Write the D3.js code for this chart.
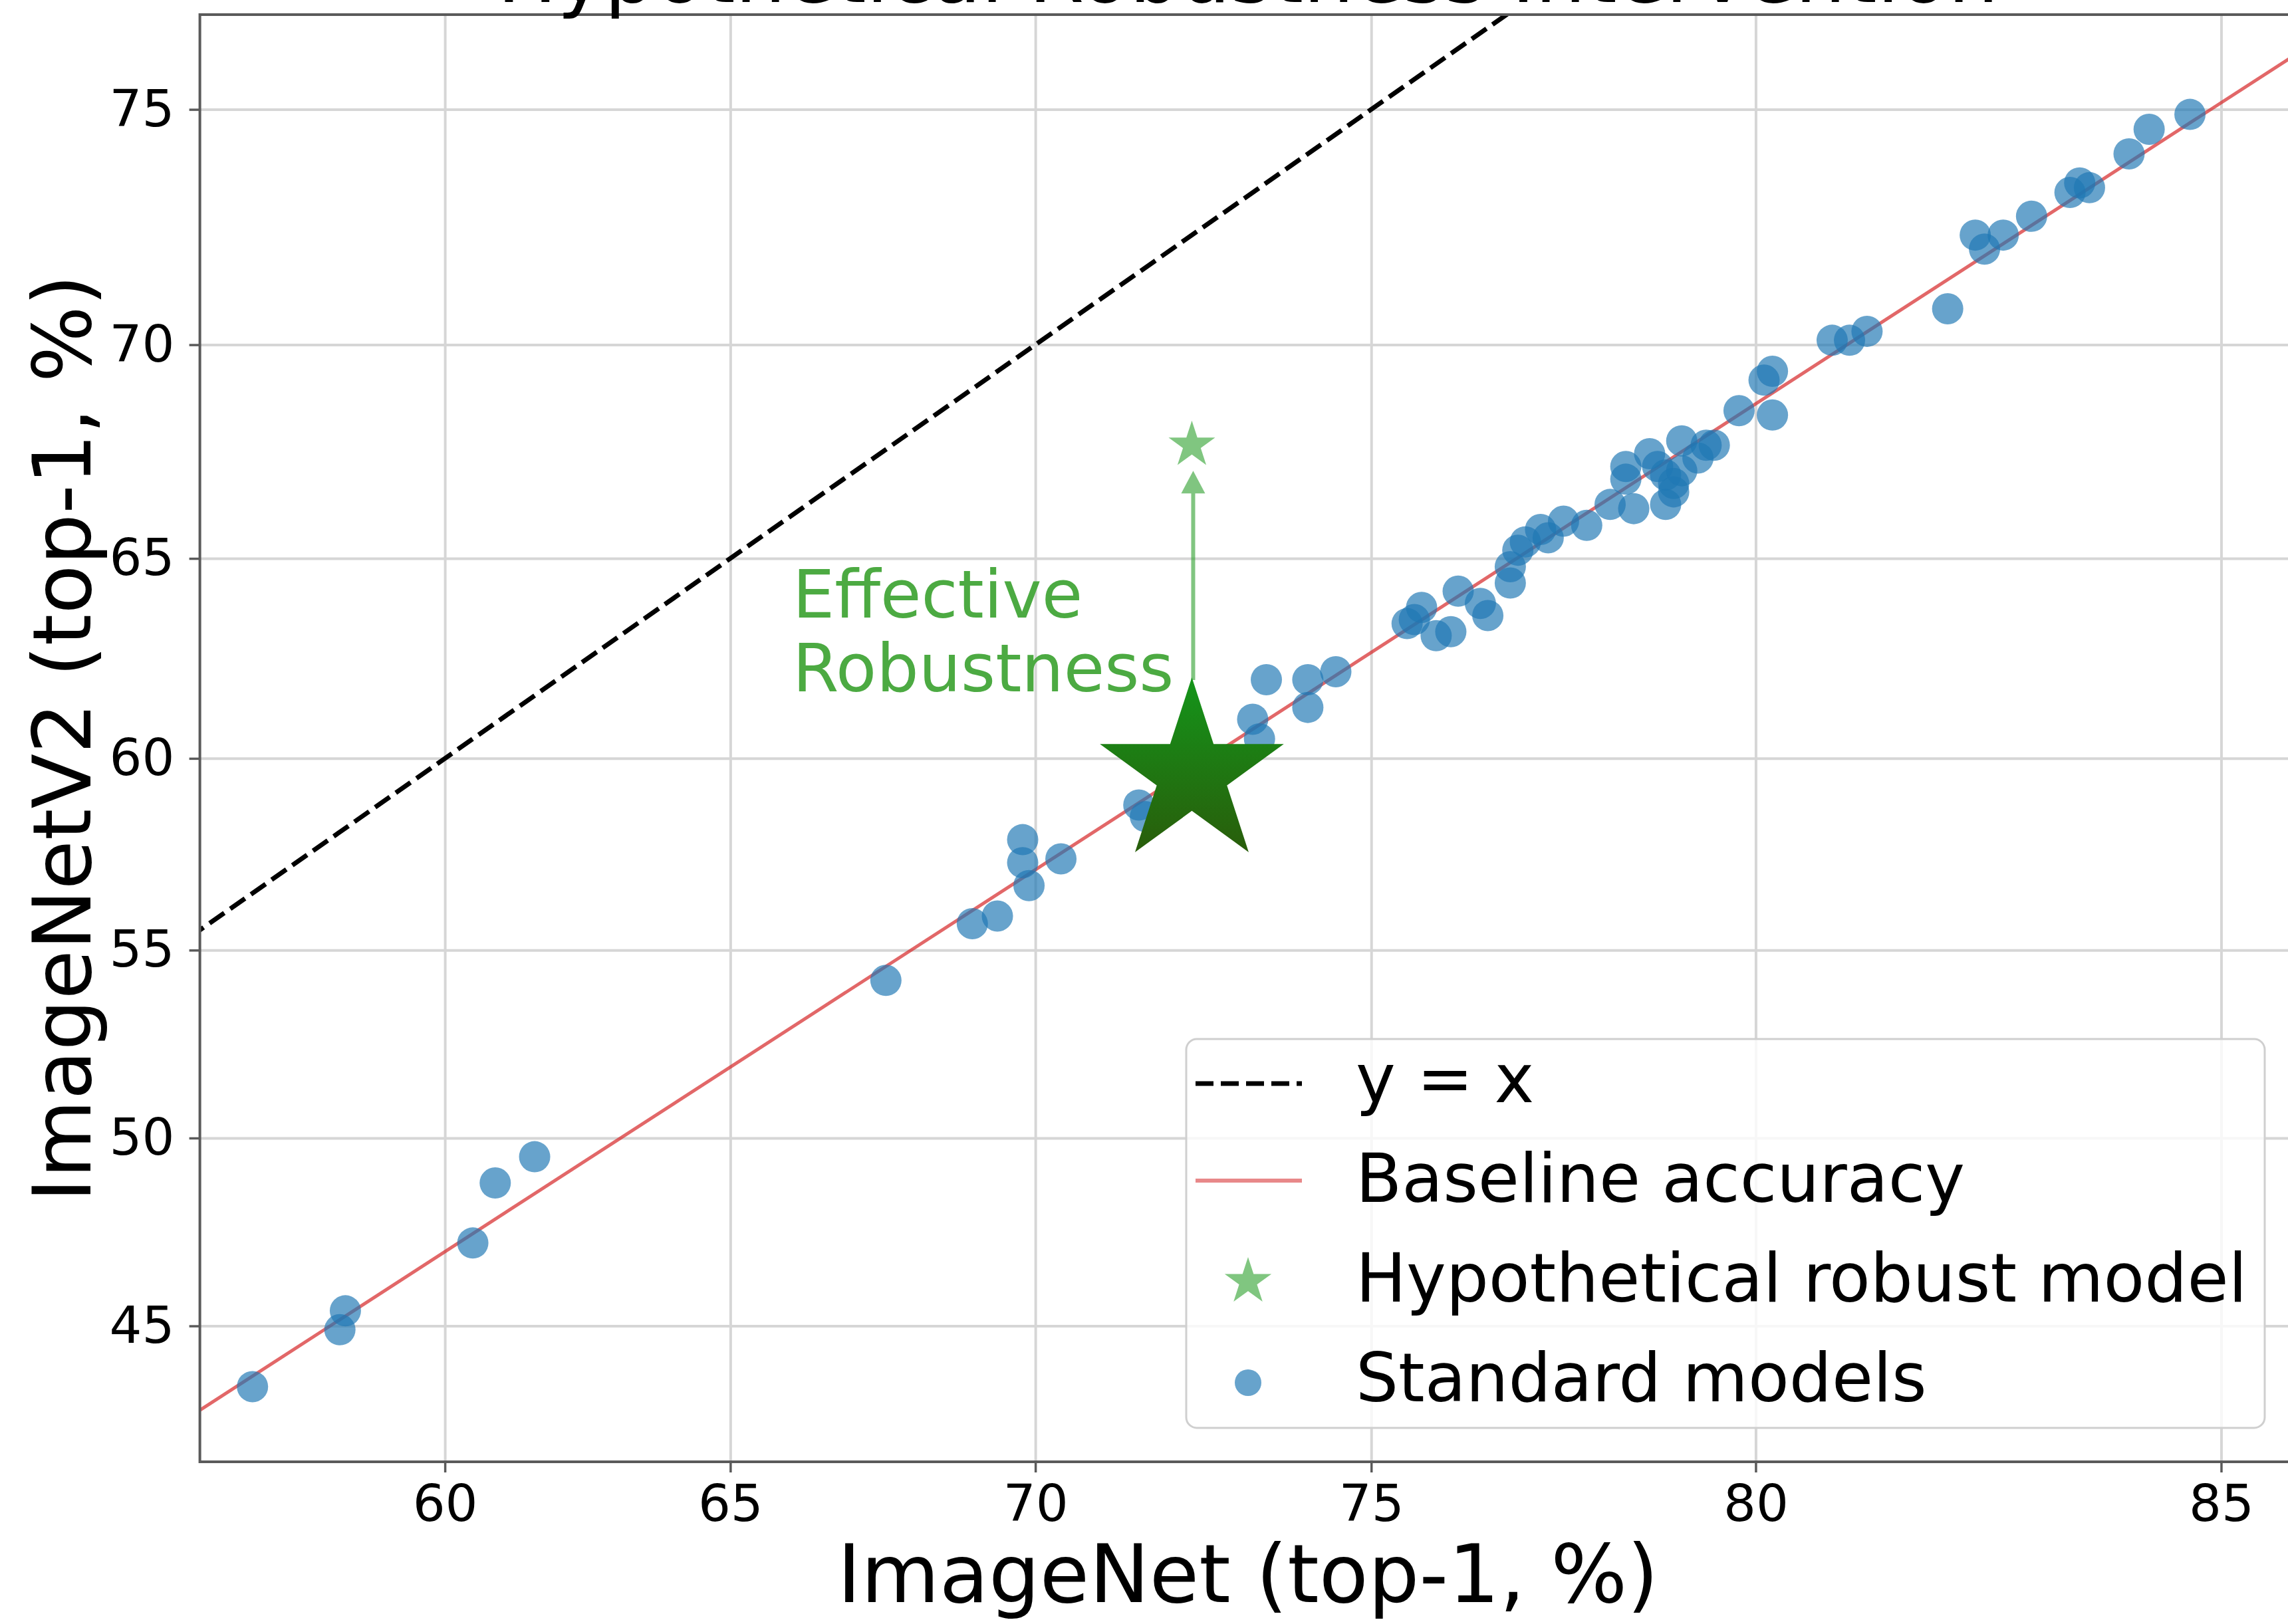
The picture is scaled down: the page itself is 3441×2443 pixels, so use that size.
<!DOCTYPE html>
<html>
<head>
<meta charset="utf-8">
<script src="https://cdn.jsdelivr.net/npm/d3@7"></script>
<style>
  body { margin: 0; background: #fff; }
  svg { display: block; font-family: "DejaVu Sans", sans-serif; }
</style>
</head>
<body>
<div id="chart"></div>
<script>
// top-1 accuracy (%) of the standard models, ImageNet vs ImageNetV2
const imagenetAcc = [56.5, 58.1, 58.2, 60.5, 60.9, 61.6,
  67.6, 69.0, 69.4, 69.8, 69.8, 69.9, 70.4, 71.6, 71.7,
  73.3, 73.4, 73.5, 74.1, 74.1, 74.5,
  75.5, 75.6, 75.7, 75.9, 76.1, 76.2, 76.5, 76.6,
  76.9, 76.9, 77.0, 77.1, 77.3, 77.4, 77.6, 77.9,
  78.2, 78.5, 78.4, 78.4, 78.7, 78.8, 78.9, 78.9,
  79.0, 79.0, 79.1, 79.1, 79.3, 79.4, 79.5, 79.8,
  80.2, 80.1, 80.2, 80.9, 81.1, 81.3,
  82.2, 82.5, 82.6, 82.8, 83.1,
  83.5, 83.6, 83.7, 84.1, 84.3, 84.7];
const imagenetV2Acc = [43.4, 44.9, 45.4, 47.2, 48.8, 49.5,
  54.2, 55.7, 55.9, 57.9, 57.3, 56.7, 57.4, 58.8, 58.5,
  61.0, 60.5, 62.0, 61.3, 62.0, 62.2,
  63.4, 63.5, 63.8, 63.1, 63.2, 64.2, 63.9, 63.6,
  64.4, 64.8, 65.2, 65.4, 65.7, 65.5, 65.9, 65.8,
  66.3, 66.2, 66.9, 67.2, 67.5, 67.2, 66.3, 67.0,
  66.8, 66.6, 67.1, 67.8, 67.4, 67.7, 67.7, 68.5,
  68.4, 69.2, 69.4, 70.1, 70.1, 70.3,
  70.8, 72.4, 72.1, 72.4, 72.8,
  73.3, 73.5, 73.4, 74.1, 74.6, 74.9];

const xTicks = [60, 65, 70, 75, 80, 85];
const yTicks = [45, 50, 55, 60, 65, 70, 75];
const xLimits = [55.53, 85.7];
const yLimits = [41.44, 76.85];

// baseline fit (straight in logit space) given by its two ends
const baselineX = [55, 86];
const baselineY = [42.3, 76.5];
const identityEnds = [40, 90];

const baseModel = [72.4, 59.6];    // where the hypothetical model sits on the trend
const robustModel = [72.4, 67.7];  // the hypothetical robust model
const arrowTip = [72.4, 67.1];

const legendLabels = ['y = x', 'Baseline accuracy', 'Hypothetical robust model', 'Standard models'];

const width = 3441;
const height = 2443;
const plot = { left: 300.6, right: 3453, top: 22, bottom: 2199 };

const logit = (p) => Math.log(p / (100 - p));

const xScale = d3.scaleLinear().domain(xLimits.map(logit)).range([plot.left, plot.right]);
const yScale = d3.scaleLinear().domain(yLimits.map(logit)).range([plot.bottom, plot.top]);
const x = (v) => xScale(logit(v));
const y = (v) => yScale(logit(v));

const blue = '#1f77b4';
const green = '#2ca02c';
const red = '#d62728';

// d3.symbolStar outer radius = sqrt(size * ka)
const starSize = (r) => (r * r) / 0.8908130915292852;

const svg = d3.select('#chart').append('svg')
  .attr('width', width)
  .attr('height', height);

const defs = svg.append('defs');
defs.append('clipPath').attr('id', 'plot-clip')
  .append('rect')
  .attr('x', plot.left).attr('y', plot.top)
  .attr('width', plot.right - plot.left).attr('height', plot.bottom - plot.top);

const grad = defs.append('linearGradient').attr('id', 'star-grad')
  .attr('x1', 0).attr('y1', 0).attr('x2', 0).attr('y2', 1);
grad.append('stop').attr('offset', '0%').attr('stop-color', '#14951a');
grad.append('stop').attr('offset', '100%').attr('stop-color', '#295d0b');

// gridlines first
svg.append('g')
  .attr('class', 'grid')
  .attr('transform', `translate(0, ${plot.bottom})`)
  .call(d3.axisBottom(xScale).tickValues(xTicks.map(logit)).tickFormat('').tickSize(-(plot.bottom - plot.top)));
svg.append('g')
  .attr('class', 'grid')
  .attr('transform', `translate(${plot.left}, 0)`)
  .call(d3.axisLeft(yScale).tickValues(yTicks.map(logit)).tickFormat('').tickSize(-(plot.right - plot.left)));
svg.selectAll('.grid .domain').remove();
svg.selectAll('.grid line').attr('stroke', '#d6d6d6').attr('stroke-width', 4);

const inner = svg.append('g').attr('clip-path', 'url(#plot-clip)');

// y = x
inner.append('path')
  .attr('d', d3.line()(identityEnds.map((v) => [x(v), y(v)])))
  .attr('fill', 'none')
  .attr('stroke', '#000')
  .attr('stroke-width', 7)
  .attr('stroke-dasharray', '27 11');

// baseline accuracy
inner.append('path')
  .attr('d', d3.line()(baselineX.map((v, i) => [x(v), y(baselineY[i])])))
  .attr('fill', 'none')
  .attr('stroke', red)
  .attr('stroke-opacity', 0.7)
  .attr('stroke-width', 5);

// standard models
inner.append('g').selectAll('circle')
  .data(imagenetAcc.map((v, i) => [v, imagenetV2Acc[i]]))
  .join('circle')
  .attr('cx', (d) => x(d[0]))
  .attr('cy', (d) => y(d[1]))
  .attr('r', 23.5)
  .attr('fill', blue)
  .attr('fill-opacity', 0.68);

// arrow from the big star up to the robust one
const bigR = 145.4;
const arrowX = x(arrowTip[0]) + 2;
const tipY = y(arrowTip[1]);
const arrow = inner.append('g').attr('opacity', 0.6);
arrow.append('line')
  .attr('x1', arrowX).attr('x2', arrowX)
  .attr('y1', y(baseModel[1]) - bigR + 4)
  .attr('y2', tipY + 30)
  .attr('stroke', green)
  .attr('stroke-width', 6);
arrow.append('path')
  .attr('d', d3.line()([[arrowX, tipY], [arrowX - 18, tipY + 34], [arrowX + 18, tipY + 34]]) + 'Z')
  .attr('fill', green);

inner.append('path')
  .attr('transform', `translate(${x(robustModel[0])}, ${y(robustModel[1])})`)
  .attr('d', d3.symbol(d3.symbolStar, starSize(36.8))())
  .attr('fill', green)
  .attr('fill-opacity', 0.6);

inner.append('path')
  .attr('transform', `translate(${x(baseModel[0])}, ${y(baseModel[1])})`)
  .attr('d', d3.symbol(d3.symbolStar, starSize(bigR))())
  .attr('fill', 'url(#star-grad)');

// annotation
const note = svg.append('text')
  .attr('x', 1192)
  .attr('font-size', 100)
  .attr('fill', '#4caa42');
note.append('tspan').attr('x', 1192).attr('y', 929).text('Effective');
note.append('tspan').attr('x', 1192).attr('y', 1040).text('Robustness');

// spines (right one falls outside the picture)
svg.append('rect')
  .attr('x', plot.left).attr('y', plot.top)
  .attr('width', plot.right - plot.left).attr('height', plot.bottom - plot.top)
  .attr('fill', 'none')
  .attr('stroke', '#5a5a5a')
  .attr('stroke-width', 4);

// axes
const xAxis = svg.append('g')
  .attr('transform', `translate(0, ${plot.bottom})`)
  .call(d3.axisBottom(xScale)
    .tickValues(xTicks.map(logit))
    .tickFormat((d, i) => xTicks[i])
    .tickSize(16)
    .tickPadding(18));
const yAxis = svg.append('g')
  .attr('transform', `translate(${plot.left}, 0)`)
  .call(d3.axisLeft(yScale)
    .tickValues(yTicks.map(logit))
    .tickFormat((d, i) => yTicks[i])
    .tickSize(16)
    .tickPadding(22));
[xAxis, yAxis].forEach((ax) => {
  ax.select('.domain').remove();
  ax.selectAll('.tick line').attr('stroke', '#5a5a5a').attr('stroke-width', 3.5);
  ax.selectAll('.tick text')
    .attr('fill', '#000')
    .attr('font-size', 77)
    .attr('font-family', '"DejaVu Sans", sans-serif');
});

const midX = (plot.left + plot.right) / 2;
const midY = (plot.top + plot.bottom) / 2;

svg.append('text')
  .attr('x', midX).attr('y', 2410)
  .attr('text-anchor', 'middle')
  .attr('font-size', 121)
  .text('ImageNet (top-1, %)');

svg.append('text')
  .attr('transform', `translate(136, ${midY}) rotate(-90)`)
  .attr('text-anchor', 'middle')
  .attr('font-size', 121)
  .text('ImageNetV2 (top-1, %)');

// title, cut off at the top edge just like the source figure
svg.append('text')
  .attr('x', midX).attr('y', 3)
  .attr('text-anchor', 'middle')
  .attr('font-size', 120)
  .text('Hypothetical Robustness Intervention');

// legend
const legend = svg.append('g');
legend.append('rect')
  .attr('x', 1784).attr('y', 1563)
  .attr('width', 1622).attr('height', 585)
  .attr('rx', 16)
  .attr('fill', '#fff')
  .attr('fill-opacity', 0.8)
  .attr('stroke', '#cfcfcf')
  .attr('stroke-width', 3);

const rows = legend.selectAll('g.row')
  .data(legendLabels)
  .join('g')
  .attr('class', 'row')
  .attr('transform', (d, i) => `translate(0, ${1658 + i * 150})`);

rows.append('text')
  .attr('x', 2039)
  .attr('font-size', 101)
  .text((d) => d);

rows.filter((d, i) => i === 0).append('line')
  .attr('x1', 1798).attr('x2', 1958).attr('y1', -28).attr('y2', -28)
  .attr('stroke', '#000').attr('stroke-width', 7)
  .attr('stroke-dasharray', '27 11');
rows.filter((d, i) => i === 1).append('line')
  .attr('x1', 1798).attr('x2', 1958).attr('y1', -32).attr('y2', -32)
  .attr('stroke', red).attr('stroke-opacity', 0.55).attr('stroke-width', 6);
rows.filter((d, i) => i === 2).append('path')
  .attr('transform', 'translate(1877, -30)')
  .attr('d', d3.symbol(d3.symbolStar, starSize(37))())
  .attr('fill', green).attr('fill-opacity', 0.6);
rows.filter((d, i) => i === 3).append('circle')
  .attr('cx', 1877).attr('cy', -28).attr('r', 20)
  .attr('fill', blue).attr('fill-opacity', 0.68);
</script>
</body>
</html>
